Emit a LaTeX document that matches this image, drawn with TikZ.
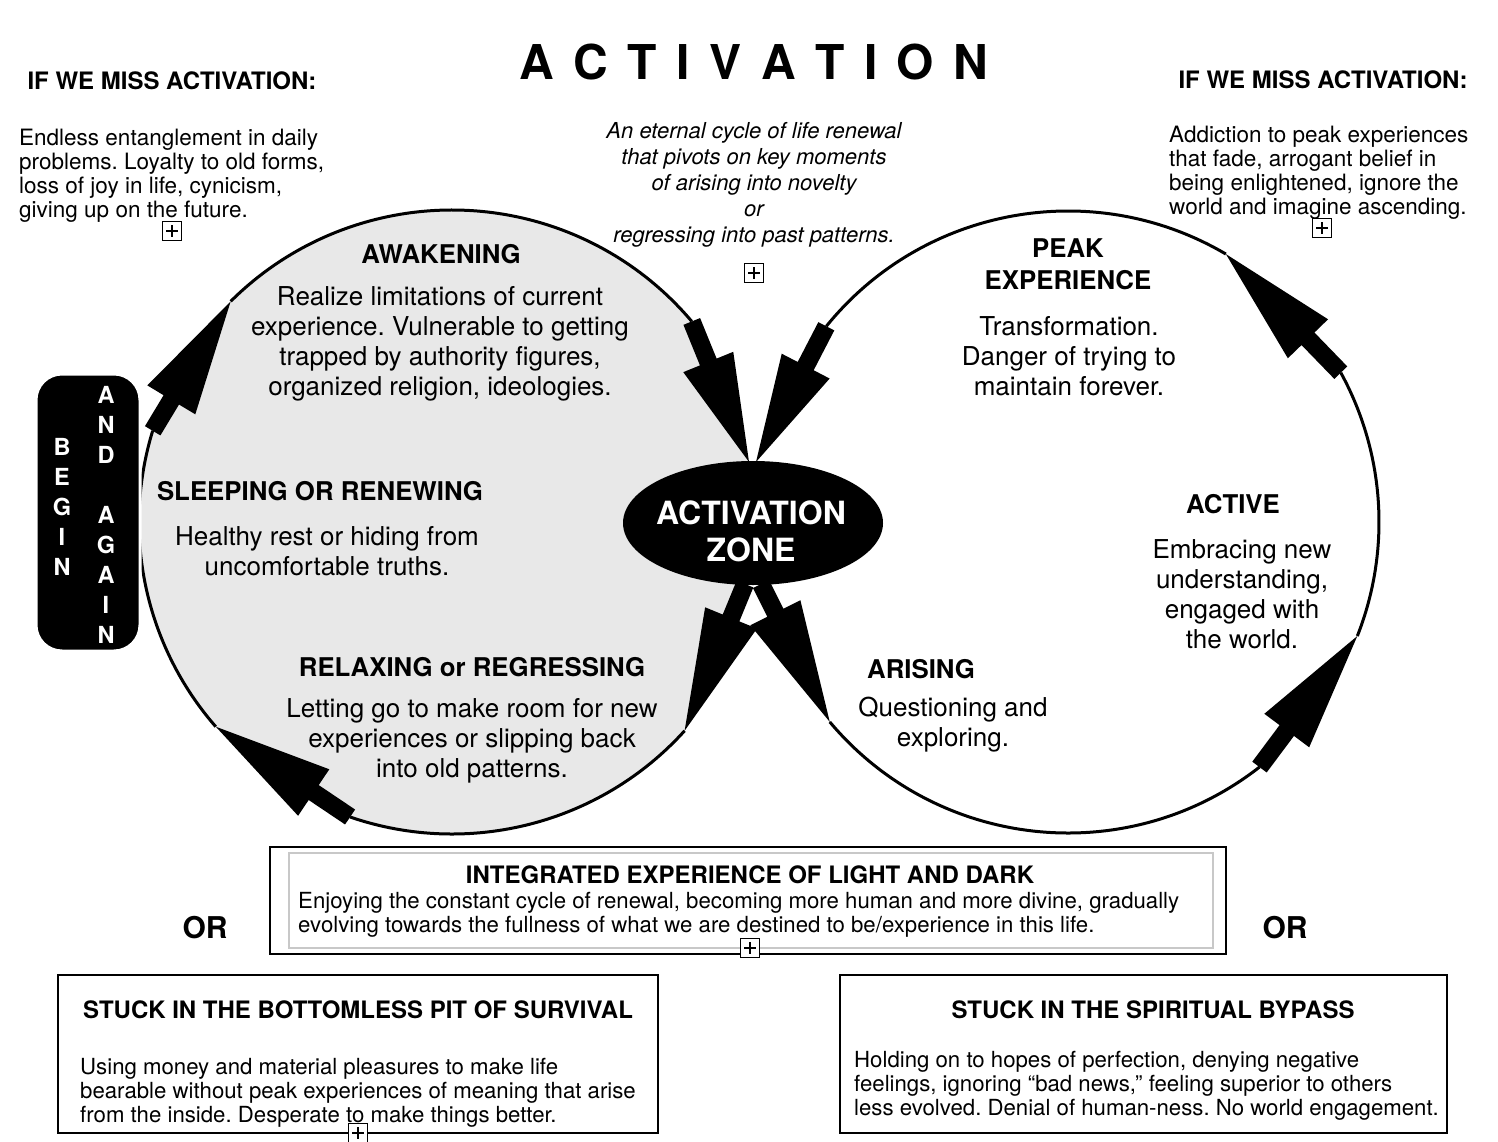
\documentclass[tikz,border=0pt]{standalone}
\usepackage{fontspec}
\setmainfont{TeX Gyre Heros}
\usetikzlibrary{calc,shapes.geometric}
\definecolor{lightfill}{HTML}{E8E8E8}
\definecolor{innergray}{HTML}{C8C8C8}
% #1 head length, #2 head half width, #3 tail, #4 tip
\newcommand{\blockarrow}[4]{%
  \coordinate (ba-base) at ($(#4)!#1pt!(#3)$);
  \fill[black] ($(#3)!9pt!90:(#4)$) -- ($(ba-base)!9pt!90:(#4)$) -- ($(ba-base)!#2pt!90:(#4)$) -- (#4)
     -- ($(ba-base)!#2pt!-90:(#4)$) -- ($(ba-base)!9pt!-90:(#4)$) -- ($(#3)!9pt!-90:(#4)$) -- cycle;
}
\tikzset{
  body/.style={font=\fontsize{26}{30}\selectfont, align=center, inner sep=0pt},
  small/.style={font=\fontsize{22.5}{24}\selectfont, align=left, inner sep=0pt, anchor=west},
  boxbody/.style={font=\fontsize{22.2}{24}\selectfont, align=left, inner sep=0pt, anchor=west},
  head/.style={font=\bfseries\fontsize{25.8}{32}\selectfont, align=center, inner sep=0pt},
  note/.style={font=\itshape\fontsize{22}{26}\selectfont, align=center, inner sep=0pt},
  missh/.style={font=\bfseries\fontsize{24}{28}\selectfont, inner sep=0pt},
  boxhead/.style={font=\bfseries\fontsize{24}{28}\selectfont, inner sep=0pt},
  orlabel/.style={font=\bfseries\fontsize{30}{36}\selectfont, inner sep=0pt},
  letter/.style={font=\bfseries\fontsize{23.5}{28}\selectfont, text=white, inner sep=0pt},
  circ/.style={line width=3pt},
  frame/.style={draw, line width=2pt},
  plusbox/.style={draw, fill=white, line width=1.5pt, minimum size=19pt, inner sep=0pt,
    path picture={\draw[line width=1.5pt]
      ([yshift=-3.5pt]path picture bounding box.north) -- ([yshift=3.5pt]path picture bounding box.south)
      ([xshift=3.5pt]path picture bounding box.west) -- ([xshift=-3.5pt]path picture bounding box.east);}},
}
\frenchspacing
\begin{document}
\begin{tikzpicture}[x=1pt, y=-1pt, line join=miter]
\useasboundingbox (0,0) rectangle (1498,1142);
\fill[white] (0,0) rectangle (1498,1142);

% centres of the two cycles
\coordinate (LC) at (452,522);
\coordinate (RC) at (1068,522);

% arrow end points
\coordinate (a1t) at ($(LC)+(197:313 and 312)$);
\coordinate (a1h) at ($(LC)+(225:313 and 312)$);
\coordinate (a2t) at ($(LC)+(320:313 and 312)$);
\coordinate (a2h) at (749,462);
\coordinate (a3t) at ($(RC)+(219:311 and 311)$);
\coordinate (a3h) at (756,462);
\coordinate (a4t) at (745,584);
\coordinate (a4h) at ($(LC)+(42:313 and 312)$);
\coordinate (a5t) at ($(LC)+(109:313 and 312)$);
\coordinate (a5h) at ($(LC)+(139:313 and 312)$);
\coordinate (a6t) at (761,584);
\coordinate (a6h) at ($(RC)+(140:311 and 311)$);
\coordinate (a7t) at ($(RC)+(52:311 and 311)$);
\coordinate (a7h) at ($(RC)+(21.5:311 and 311)$);
\coordinate (a8t) at ($(RC)+(331.3:311 and 311)$);
\coordinate (a8h) at ($(RC)+(300.5:311 and 311)$);

% grey fill of the left cycle
\fill[lightfill] (a1h) arc[start angle=225, end angle=320, x radius=313, y radius=312]
  -- (a2h) -- (a4t) -- (a4h) arc[start angle=42, end angle=109, x radius=313, y radius=312]
  -- (a5h) arc[start angle=139, end angle=197, x radius=313, y radius=312] -- cycle;

% outline arcs
\draw[circ] (a1h) arc[start angle=225, end angle=320, x radius=313, y radius=312];
\draw[circ] (a4h) arc[start angle=42, end angle=109, x radius=313, y radius=312];
\draw[circ] (a5h) arc[start angle=139, end angle=197, x radius=313, y radius=312];
\draw[circ] (a3t) arc[start angle=219, end angle=300.5, radius=311];
\draw[circ] (a8t) arc[start angle=331.3, end angle=381.5, radius=311];
\draw[circ] (a7t) arc[start angle=52, end angle=140, radius=311];

% block arrows
\blockarrow{115}{28}{a1t}{a1h}
\blockarrow{108}{27}{a2t}{a2h}
\blockarrow{108}{27}{a3t}{a3h}
\blockarrow{122}{28}{a4t}{a4h}
\blockarrow{118}{28}{a5t}{a5h}
\blockarrow{122}{28}{a6t}{a6h}
\blockarrow{118}{28}{a7t}{a7h}
\blockarrow{118}{28}{a8t}{a8h}

% activation zone
\node[ellipse, fill=black, minimum width=260pt, minimum height=124pt, inner sep=0pt] (zone) at (753,523) {};
\node[font=\bfseries\fontsize{32}{37}\selectfont, text=white, align=center, inner sep=0pt] (zonetext) at (751,531) {ACTIVATION\\ZONE};

% begin and again box
\node[draw=white, line width=3pt, fill=black, rounded corners=26pt, minimum width=104pt, minimum height=277pt, inner sep=0pt] (beginbox) at (88,512.5) {};
\foreach \l [count=\i] in {B,E,G,I,N}
  \node[letter] (bg\i) at (62, 417+30*\i) {\l};
\node[letter] (ag1) at (106,395) {A};
\node[letter] (ag2) at (106,425) {N};
\node[letter] (ag3) at (106,455) {D};
\node[letter] (ag4) at (106,515) {A};
\node[letter] (ag5) at (106,545) {G};
\node[letter] (ag6) at (106,575) {A};
\node[letter] (ag7) at (106,605) {I};
\node[letter] (ag8) at (106,635) {N};

% title and top notes
\node[font=\bfseries\fontsize{48}{56}\selectfont, inner sep=0pt] (title) at (754,62)
  {A\hspace{19.5pt}C\hspace{19.5pt}T\hspace{19.5pt}I\hspace{19.5pt}V\hspace{19.5pt}A\hspace{19.5pt}T\hspace{19.5pt}I\hspace{19.5pt}O\hspace{19.5pt}N};
\node[missh] (missL) at (172,81) {IF WE MISS ACTIVATION:};
\node[missh] (missR) at (1323,80) {IF WE MISS ACTIVATION:};
\node[small] (missLtext) at (19,176) {Endless entanglement in daily\\problems. Loyalty to old forms,\\loss of joy in life, cynicism,\\giving up on the future.};
\node[small] (missRtext) at (1169,173) {Addiction to peak experiences\\that fade, arrogant belief in\\being enlightened, ignore the\\world and imagine ascending.};
\node[note] (intro) at (754,185) {An eternal cycle of life renewal\\that pivots on key moments\\of arising into novelty\\or\\regressing into past patterns.};
\node[plusbox] (p1) at (172,231) {};
\node[plusbox] (p2) at (754,273) {};
\node[plusbox] (p3) at (1322,228) {};

% left cycle texts
\node[head] (awk) at (441,254) {AWAKENING};
\node[body] (awkb) at (440,344) {Realize limitations of current\\experience. Vulnerable to getting\\trapped by authority figures,\\organized religion, ideologies.};
\node[head] (slp) at (320,491) {SLEEPING OR RENEWING};
\node[body] (slpb) at (327,551) {Healthy rest or hiding from\\uncomfortable truths.};
\node[head] (rlx) at (472,667) {RELAXING or REGRESSING};
\node[body] (rlxb) at (472,741) {Letting go to make room for new\\experiences or slipping back\\into old patterns.};

% right cycle texts
\node[head] (peak) at (1068,264) {PEAK\\EXPERIENCE};
\node[body] (peakb) at (1069,356) {Transformation.\\Danger of trying to\\maintain forever.};
\node[head] (act) at (1233,504) {ACTIVE};
\node[body] (actb) at (1242,594) {Embracing new\\understanding,\\engaged with\\the world.};
\node[head] (ars) at (921,669) {ARISING};
\node[body] (arsb) at (953,725) {Questioning and\\exploring.};

% integrated box
\draw[line width=2.5pt] (270,847) rectangle (1226,954);
\draw[innergray, line width=2.5pt] (289,853) rectangle (1213,948);
\node[boxhead] (integ) at (750,875) {INTEGRATED EXPERIENCE OF LIGHT AND DARK};
\node[boxbody] (integb) at (298,915) {Enjoying the constant cycle of renewal, becoming more human and more divine, gradually\\evolving towards the fullness of what we are destined to be/experience in this life.};
\node[plusbox] (p4) at (750,948) {};

\node[orlabel] (orL) at (205,928) {OR};
\node[orlabel] (orR) at (1285,928) {OR};

% bottom boxes
\draw[frame] (58,975) rectangle (658,1133);
\node[boxhead] (survh) at (358,1010) {STUCK IN THE BOTTOMLESS PIT OF SURVIVAL};
\node[boxbody] (survb) at (80,1093) {Using money and material pleasures to make life\\bearable without peak experiences of meaning that arise\\from the inside. Desperate to make things better.};
\node[plusbox] (p5) at (358,1133) {};

\draw[frame] (840,975) rectangle (1447,1133);
\node[boxhead] (bypassh) at (1153,1010) {STUCK IN THE SPIRITUAL BYPASS};
\node[boxbody] (bypassb) at (854,1086) {Holding on to hopes of perfection, denying negative\\feelings, ignoring “bad news,” feeling superior to others\\less evolved. Denial of human-ness. No world engagement.};
\end{tikzpicture}
\end{document}
